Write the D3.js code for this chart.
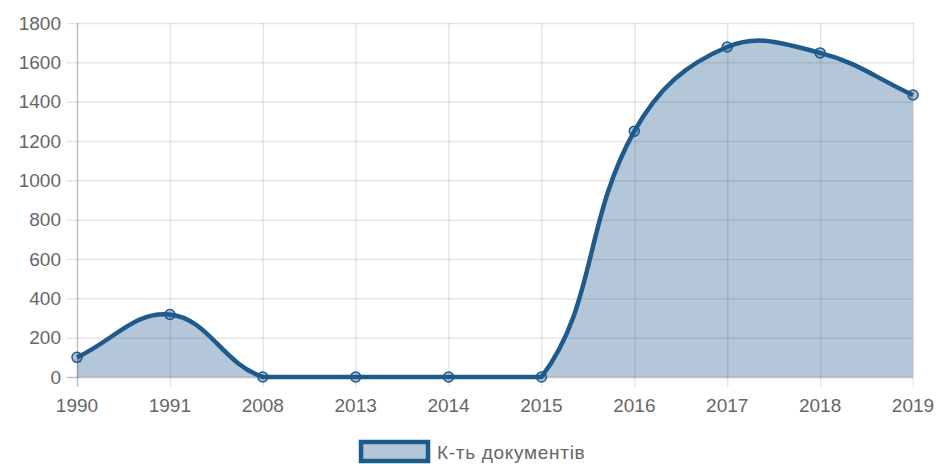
<!DOCTYPE html>
<html>
<head>
<meta charset="utf-8">
<script src="https://cdn.jsdelivr.net/npm/d3@7"></script>
<style>
  body { margin: 0; background: #fff; }
  svg { display: block; font-family: "Liberation Sans", Arial, sans-serif; }
</style>
</head>
<body>
<svg id="chart"></svg>
<script>
const width = 936,
    height = 464;

// data
const years = ["1990", "1991", "2008", "2013", "2014", "2015", "2016", "2017", "2018", "2019"];
const docs = [100, 318, 0, 0, 0, 0, 1250, 1678, 1648, 1434];
const yTicks = [0, 200, 400, 600, 800, 1000, 1200, 1400, 1600, 1800];
const seriesLabel = "К-ть документів";

const lineColor = "#1f5a8c",
    fillColor = "rgba(31,90,140,0.34)",
    textColor = "#666";

const margin = { top: 23, right: 23, bottom: 87, left: 77 };

const svg = d3.select("#chart")
    .attr("width", width)
    .attr("height", height);

const x = d3.scalePoint()
    .domain(years)
    .range([margin.left, width - margin.right]);

const y = d3.scaleLinear()
    .domain([0, 1800])
    .range([height - margin.bottom, margin.top]);

const areaTop = y(1800), areaBottom = y(0);
const areaLeft = x(years[0]), areaRight = x(years[years.length - 1]);

// grid
const grid = svg.append("g");
grid.selectAll(".hgrid")
    .data(yTicks)
    .enter()
    .append("line")
    .attr("x1", areaLeft - 10)
    .attr("x2", areaRight)
    .attr("y1", d => y(d) + 0.5)
    .attr("y2", d => y(d) + 0.5)
    .attr("stroke", d => d === 0 ? "rgba(0,0,0,0.25)" : "rgba(0,0,0,0.1)")
    .attr("stroke-width", 1.5);

grid.selectAll(".vgrid")
    .data(years)
    .enter()
    .append("line")
    .attr("x1", d => x(d) + 0.5)
    .attr("x2", d => x(d) + 0.5)
    .attr("y1", areaTop)
    .attr("y2", areaBottom + 10)
    .attr("stroke", (d, i) => i === 0 ? "rgba(0,0,0,0.25)" : "rgba(0,0,0,0.1)")
    .attr("stroke-width", 1.5);

// tick labels
svg.selectAll(".ylab")
    .data(yTicks)
    .enter()
    .append("text")
    .attr("x", areaLeft - 16)
    .attr("y", d => y(d))
    .attr("dy", "0.35em")
    .attr("text-anchor", "end")
    .attr("fill", textColor)
    .attr("font-size", 19)
    .text(d => d);

svg.selectAll(".xlab")
    .data(years)
    .enter()
    .append("text")
    .attr("x", d => x(d))
    .attr("y", areaBottom + 28)
    .attr("dy", "0.35em")
    .attr("text-anchor", "middle")
    .attr("fill", textColor)
    .attr("font-size", 19)
    .text(d => d);

// spline like Chart.js (tension 0.4, control points capped to the area)
const pts = years.map((yr, i) => ({ x: x(yr), y: y(docs[i]) }));
const tension = 0.4;
const cap = (v, lo, hi) => Math.max(lo, Math.min(hi, v));
pts.forEach((p, i) => {
    const prev = pts[i - 1] || p, next = pts[i + 1] || p;
    const d01 = Math.hypot(p.x - prev.x, p.y - prev.y);
    const d12 = Math.hypot(next.x - p.x, next.y - p.y);
    let s01 = d01 / (d01 + d12), s12 = d12 / (d01 + d12);
    if (isNaN(s01)) s01 = 0;
    if (isNaN(s12)) s12 = 0;
    const fa = tension * s01, fb = tension * s12;
    p.cpPrev = [cap(p.x - fa * (next.x - prev.x), areaLeft, areaRight), cap(p.y - fa * (next.y - prev.y), areaTop, areaBottom)];
    p.cpNext = [cap(p.x + fb * (next.x - prev.x), areaLeft, areaRight), cap(p.y + fb * (next.y - prev.y), areaTop, areaBottom)];
});

const linePath = d3.path();
linePath.moveTo(pts[0].x, pts[0].y);
for (let i = 1; i < pts.length; i++) {
    const a = pts[i - 1], b = pts[i];
    linePath.bezierCurveTo(a.cpNext[0], a.cpNext[1], b.cpPrev[0], b.cpPrev[1], b.x, b.y);
}
const lineD = linePath.toString();

svg.append("path")
    .attr("d", lineD + `L${areaRight},${areaBottom}L${areaLeft},${areaBottom}Z`)
    .attr("fill", fillColor);

svg.append("path")
    .attr("d", lineD)
    .attr("fill", "none")
    .attr("stroke", lineColor)
    .attr("stroke-width", 4.5);

svg.selectAll(".pt")
    .data(pts)
    .enter()
    .append("circle")
    .attr("cx", d => d.x)
    .attr("cy", d => d.y)
    .attr("r", 5)
    .attr("fill", fillColor)
    .attr("stroke", lineColor)
    .attr("stroke-width", 1.5);

// legend
const legend = svg.append("g");
legend.append("rect")
    .attr("x", 361)
    .attr("y", 442)
    .attr("width", 67)
    .attr("height", 19)
    .attr("fill", fillColor)
    .attr("stroke", lineColor)
    .attr("stroke-width", 4.5);

legend.append("text")
    .attr("x", 437)
    .attr("y", 452)
    .attr("dy", "0.35em")
    .attr("fill", textColor)
    .attr("font-size", 19)
    .attr("letter-spacing", 0.7)
    .text(seriesLabel);
</script>
</body>
</html>
